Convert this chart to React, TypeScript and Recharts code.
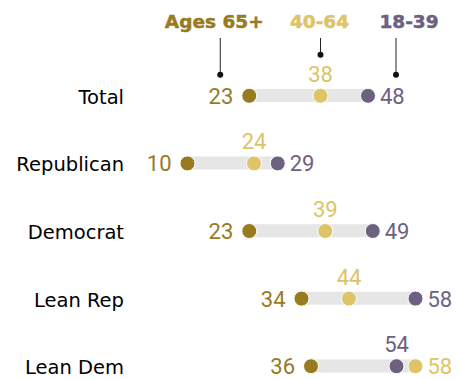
import React from 'react';
import { Bar, ComposedChart, Line, XAxis, YAxis } from 'recharts';

const groups = ['Total', 'Republican', 'Democrat', 'Lean Rep', 'Lean Dem'];
const ages65 = [23, 10, 23, 34, 36];
const ages40 = [38, 24, 39, 44, 58];
const ages18 = [48, 29, 49, 58, 54];

const SERIES = [
  { key: 'a65', label: 'Ages 65+', color: '#987a1f', headerShift: -6 },
  { key: 'a18', label: '18-39', color: '#6d6081', headerShift: 13 },
  { key: 'a40', label: '40-64', color: '#dcc467', headerShift: -1 },
];

const data = groups.map((name, i) => ({
  name,
  a65: ages65[i],
  a40: ages40[i],
  a18: ages18[i],
}));

const LABEL_FONT = '"DejaVu Sans", Verdana, sans-serif';
const NUM_FONT = 'Roboto, "Noto Sans", sans-serif';

const makeDot = (s: (typeof SERIES)[number]) => (props: any) => {
  const { cx, cy, payload, index } = props;
  if (cx == null || cy == null) return <g key={`${s.key}-${index}`} />;
  const v = payload[s.key];
  const vals = [payload.a65, payload.a40, payload.a18];
  const lo = Math.min(...vals);
  const hi = Math.max(...vals);
  const role = v === lo ? 'lo' : v === hi ? 'hi' : 'mid';

  let tx = cx;
  let ty = cy + 8;
  let anchor: 'start' | 'middle' | 'end' = 'middle';
  if (role === 'lo') {
    tx = cx - 16;
    anchor = 'end';
  } else if (role === 'hi') {
    tx = cx + 12;
    anchor = 'start';
  } else {
    ty = cy - 14;
  }

  // leader line + header on the first row only
  let header = null;
  if (index === 0) {
    const lx = role === 'lo' ? cx - 29 : role === 'hi' ? cx + 28 : cx;
    const ly = role === 'mid' ? cy - 41 : cy - 21;
    header = (
      <g>
        <line x1={lx} y1={38} x2={lx} y2={ly} stroke="#222" strokeWidth={1} />
        <circle cx={lx} cy={ly} r={3} fill="#111" />
        <text
          x={lx + s.headerShift}
          y={28}
          textAnchor="middle"
          fill={s.color}
          stroke={s.color}
          strokeWidth={0.5}
          fontFamily={LABEL_FONT}
          fontWeight={700}
          fontSize={18.5}
        >
          {s.label}
        </text>
      </g>
    );
  }

  return (
    <g key={`${s.key}-${index}`}>
      {header}
      <circle cx={cx} cy={cy} r={7.5} fill={s.color} stroke="#fff" strokeWidth={1} />
      <text x={tx} y={ty} textAnchor={anchor} fill={s.color} fontFamily={NUM_FONT} fontSize={22}>
        {v}
      </text>
    </g>
  );
};

export default function App() {
  return (
    <div style={{ position: 'absolute', left: 0, top: 0, width: 459, height: 379, overflow: 'hidden', background: '#fff' }}>
      <ComposedChart
        layout="vertical"
        width={459}
        height={400}
        data={data}
        margin={{ top: 62, right: 34, bottom: 0, left: 0 }}
      >
        <XAxis type="number" domain={[0, 60]} hide />
        <YAxis
          type="category"
          dataKey="name"
          width={140}
          axisLine={false}
          tickLine={false}
          tickSize={0}
          tickMargin={16}
          tick={{ fill: '#000', fontSize: 19.5, fontFamily: LABEL_FONT, dy: 1 }}
        />
        <Bar
          dataKey={(d: any) => [Math.min(d.a65, d.a40, d.a18), Math.max(d.a65, d.a40, d.a18)]}
          barSize={13}
          fill="#e6e6e6"
          isAnimationActive={false}
        />
        {SERIES.map((s) => (
          <Line
            key={s.key}
            dataKey={s.key}
            stroke="none"
            dot={makeDot(s)}
            activeDot={false}
            isAnimationActive={false}
          />
        ))}
      </ComposedChart>
    </div>
  );
}
